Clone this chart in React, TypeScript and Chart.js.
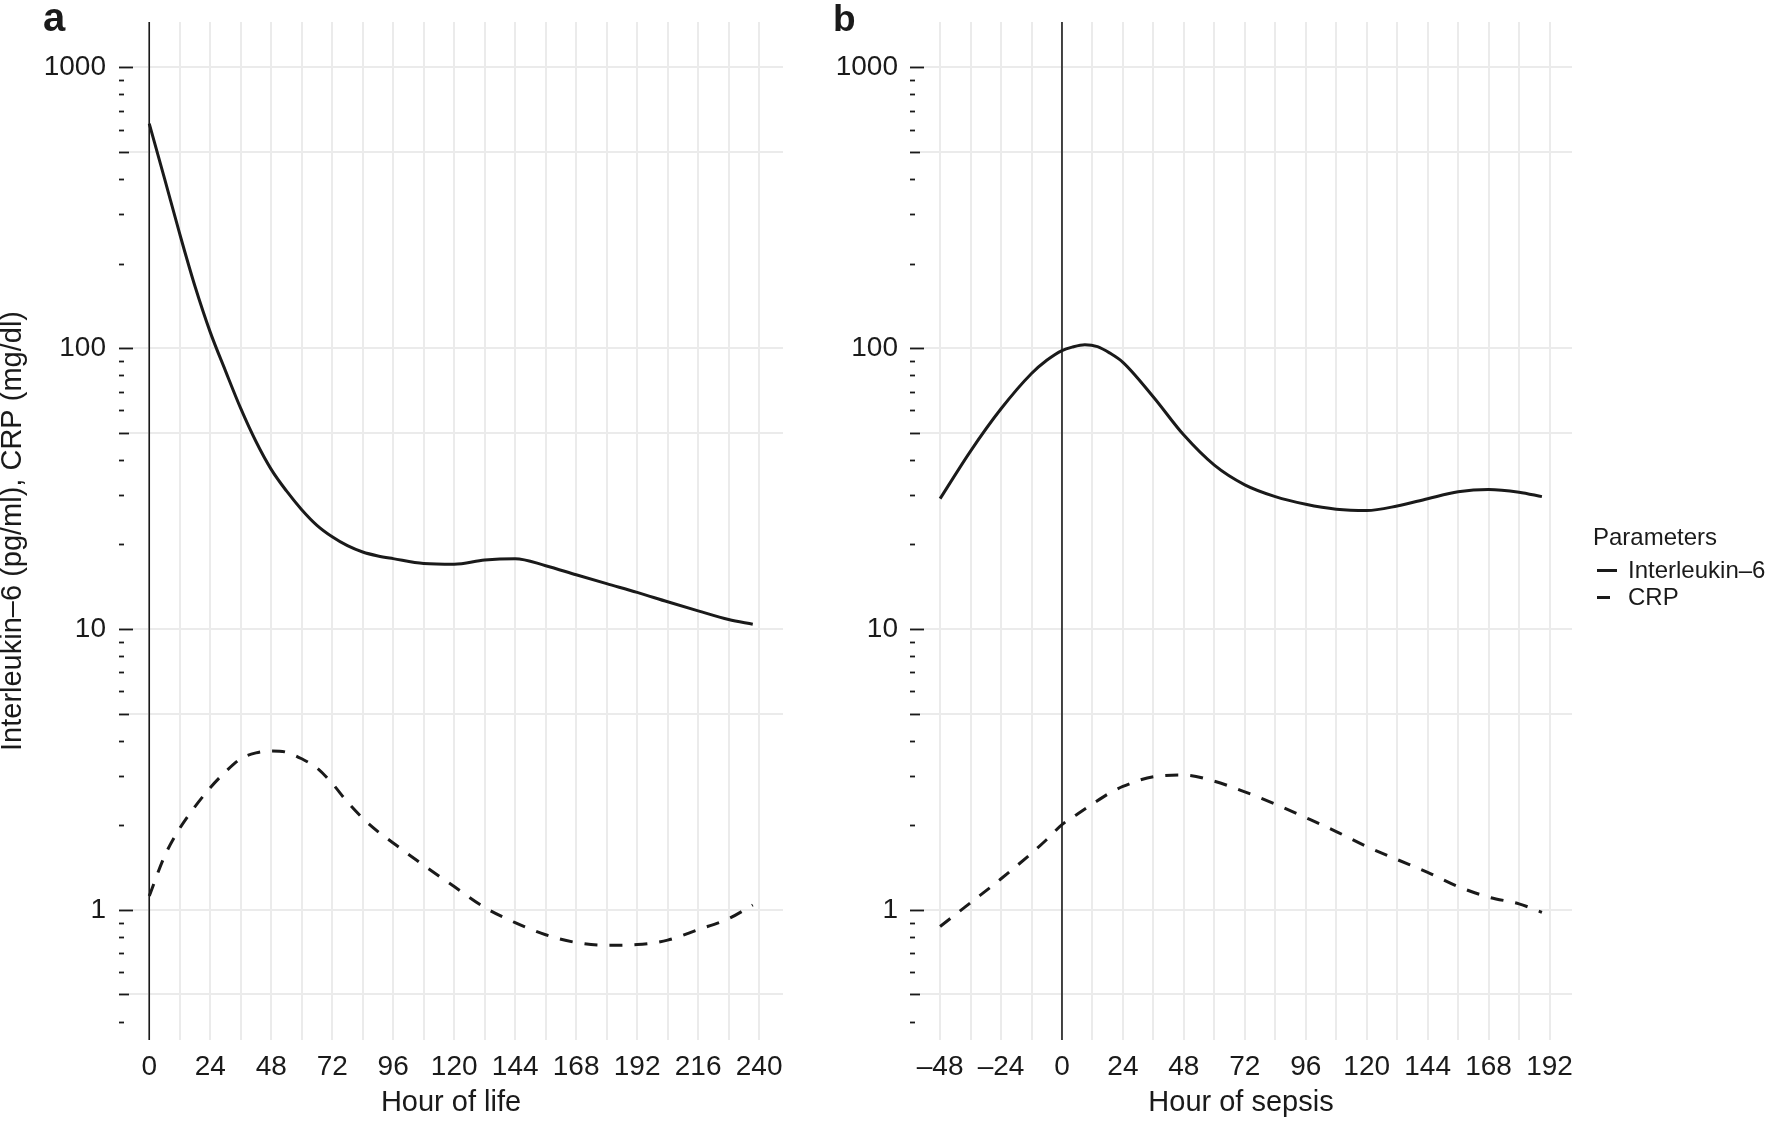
import React, { useEffect, useRef } from "react";
import { Chart, registerables } from "chart.js";

Chart.register(...registerables);

const FONT = '"Liberation Sans", Arial, Helvetica, sans-serif';
const INK = "#1a1a1a";
const GRID = "#ebebeb";

// ---- Panel a: course over the hours of life ----
const lifeHours = [0, 6, 12, 18, 24, 30, 36, 42, 48, 54, 60, 66, 72, 78, 84, 90, 96, 108, 120, 132, 144, 156, 168, 180, 192, 204, 216, 228, 237.5];
const lifeIl6 = [630, 402, 255, 166, 114, 83, 61, 46.5, 37, 31, 26.6, 23.4, 21.3, 19.8, 18.8, 18.2, 17.8, 17.1, 17.0, 17.6, 17.8, 16.8, 15.6, 14.5, 13.5, 12.5, 11.6, 10.8, 10.4];
const lifeCrp = [1.12, 1.55, 1.95, 2.33, 2.72, 3.1, 3.45, 3.62, 3.68, 3.64, 3.45, 3.2, 2.82, 2.42, 2.12, 1.9, 1.73, 1.44, 1.21, 1.02, 0.9, 0.815, 0.765, 0.748, 0.752, 0.78, 0.85, 0.93, 1.04];
const lifeGridHours = [0, 12, 24, 36, 48, 60, 72, 84, 96, 108, 120, 132, 144, 156, 168, 180, 192, 204, 216, 228, 240];
const lifeTickLabels = [0, 24, 48, 72, 96, 120, 144, 168, 192, 216, 240];

// ---- Panel b: course relative to sepsis onset ----
const sepsisIl6Hours = [-48, -36, -24, -12, -6, 0, 4, 9, 14, 19, 24, 36, 48, 60, 72, 84, 96, 108, 120, 132, 144, 156, 168, 180, 189];
const sepsisIl6 = [29.1, 43, 60.8, 81.2, 90.5, 98, 100.8, 102.8, 101.2, 95.8, 89, 67, 49, 38.3, 32.6, 29.6, 27.8, 26.7, 26.4, 27.4, 29.1, 30.8, 31.4, 30.7, 29.6];
const sepsisCrpHours = [-48, -36, -24, -12, -6, 0, 6, 12, 18, 24, 36, 48, 60, 72, 84, 96, 108, 120, 132, 144, 156, 168, 180, 189];
const sepsisCrp = [0.872, 1.06, 1.29, 1.59, 1.78, 2.01, 2.19, 2.38, 2.58, 2.75, 2.98, 3.02, 2.87, 2.63, 2.38, 2.13, 1.9, 1.68, 1.51, 1.36, 1.21, 1.11, 1.05, 0.98];
const sepsisGridHours = [-48, -36, -24, -12, 0, 12, 24, 36, 48, 60, 72, 84, 96, 108, 120, 132, 144, 156, 168, 180, 192];
const sepsisTickLabels = [-48, -24, 0, 24, 48, 72, 96, 120, 144, 168, 192];

// ---- shared log axis ----
const Y_MIN = 0.344;
const Y_MAX = 1449;
const yGridValues = [0.5, 1, 5, 10, 50, 100, 500, 1000];
const yLabelValues = [1, 10, 100, 1000];
const logTickMantissas = [1, 2, 3, 4, 5, 6, 7, 8, 9];
const logTickDecades = [0.1, 1, 10, 100, 1000];
const ONSET_HOUR = 0;

const seriesNames = ["Interleukin–6", "CRP"];
const legendTitle = "Parameters";
const yTitle = "Interleukin–6 (pg/ml), CRP (mg/dl)";

const fmtHour = (v: number) => (v < 0 ? "–" + Math.abs(v) : String(v));

// Log tick marks drawn just inside the left edge of the panel
const logTickPlugin = {
  id: "logTicks",
  beforeDatasetsDraw(chart: any) {
    const y = chart.scales.y;
    const left = chart.chartArea.left;
    const ctx = chart.ctx;
    ctx.save();
    ctx.strokeStyle = INK;
    ctx.lineWidth = 1.8;
    for (const d of logTickDecades) {
      for (const m of logTickMantissas) {
        const v = m * d;
        if (v < y.min || v > y.max) continue;
        const len = m === 1 ? 14 : m === 5 ? 10 : 5;
        const py = Math.round(y.getPixelForValue(v)) + 0.5;
        ctx.beginPath();
        ctx.moveTo(left, py);
        ctx.lineTo(left + len, py);
        ctx.stroke();
      }
    }
    ctx.restore();
  },
};

// Vertical reference line at the onset hour
const zeroLinePlugin = {
  id: "zeroLine",
  beforeDatasetsDraw(chart: any, _args: any, opts: any) {
    const { top, bottom } = chart.chartArea;
    const x = chart.scales.x.getPixelForValue(opts.hour);
    const ctx = chart.ctx;
    ctx.save();
    ctx.strokeStyle = INK;
    ctx.lineWidth = 1.6;
    ctx.beginPath();
    ctx.moveTo(x, top);
    ctx.lineTo(x, bottom);
    ctx.stroke();
    ctx.restore();
  },
};

// Bold panel letter in the top-left corner
const panelTagPlugin = {
  id: "panelTag",
  afterDraw(chart: any, _args: any, opts: any) {
    const ctx = chart.ctx;
    ctx.save();
    ctx.fillStyle = INK;
    ctx.font = `bold ${opts.size}px ${FONT}`;
    ctx.textBaseline = "alphabetic";
    ctx.textAlign = "left";
    ctx.fillText(opts.text, opts.x, opts.baseline);
    ctx.restore();
  },
};

// Legend at the right, built from the dataset styles
const sideLegendPlugin = {
  id: "sideLegend",
  afterDraw(chart: any, _args: any, opts: any) {
    if (!opts.show) return;
    const ctx = chart.ctx;
    ctx.save();
    ctx.fillStyle = INK;
    ctx.font = `24px ${FONT}`;
    ctx.textBaseline = "alphabetic";
    ctx.textAlign = "left";
    ctx.fillText(opts.title, opts.titleX, opts.titleBaseline);
    chart.data.datasets.forEach((ds: any, i: number) => {
      const yb = opts.firstBaseline + i * opts.rowGap;
      const yk = yb - opts.keyRaise;
      ctx.beginPath();
      ctx.setLineDash(ds.borderDash || []);
      ctx.lineWidth = ds.borderWidth;
      ctx.strokeStyle = ds.borderColor;
      ctx.lineCap = "butt";
      ctx.moveTo(opts.keyX, yk);
      ctx.lineTo(opts.keyX + opts.keyLen, yk);
      ctx.stroke();
      ctx.setLineDash([]);
      ctx.fillText(ds.label, opts.textX, yb);
    });
    ctx.restore();
  },
};

type PanelSpec = {
  il6Hours: number[];
  il6: number[];
  crpHours: number[];
  crp: number[];
  grid: number[];
  labels: number[];
  xMin: number;
  xMax: number;
  xTitle: string;
  yAxisWidth: number;
  yLabelPad: number;
  padRight: number;
  showYTitle: boolean;
  tag: { text: string; x: number; baseline: number; size: number };
  legend: any;
};

const lifePanel: PanelSpec = {
  il6Hours: lifeHours,
  il6: lifeIl6,
  crpHours: lifeHours,
  crp: lifeCrp,
  grid: lifeGridHours,
  labels: lifeTickLabels,
  xMin: -11.9,
  xMax: 249.4,
  xTitle: "Hour of life",
  yAxisWidth: 119,
  yLabelPad: 13,
  padRight: 17,
  showYTitle: true,
  tag: { text: "a", x: 43, baseline: 31, size: 40 },
  legend: { show: false },
};

const sepsisPanel: PanelSpec = {
  il6Hours: sepsisIl6Hours,
  il6: sepsisIl6,
  crpHours: sepsisCrpHours,
  crp: sepsisCrp,
  grid: sepsisGridHours,
  labels: sepsisTickLabels,
  xMin: -59.85,
  xMax: 200.85,
  xTitle: "Hour of sepsis",
  yAxisWidth: 110,
  yLabelPad: 12,
  padRight: 199,
  showYTitle: false,
  tag: { text: "b", x: 33, baseline: 31, size: 37 },
  legend: {
    show: true,
    title: legendTitle,
    titleX: 793,
    titleBaseline: 545,
    firstBaseline: 578,
    rowGap: 27,
    keyRaise: 7.5,
    keyX: 797,
    keyLen: 20,
    textX: 828,
  },
};

function buildConfig(p: PanelSpec): any {
  const line = {
    borderColor: INK,
    borderWidth: 3,
    pointRadius: 0,
    fill: false,
    cubicInterpolationMode: "monotone",
    borderCapStyle: "butt",
    borderJoinStyle: "round",
  };
  return {
    type: "line",
    data: {
      datasets: [
        { ...line, label: seriesNames[0], data: p.il6Hours.map((h, i) => ({ x: h, y: p.il6[i] })) },
        { ...line, label: seriesNames[1], borderDash: [13, 12], data: p.crpHours.map((h, i) => ({ x: h, y: p.crp[i] })) },
      ],
    },
    options: {
      responsive: false,
      animation: false,
      events: [],
      layout: { padding: { top: 22, right: p.padRight, left: 0, bottom: 0 } },
      scales: {
        x: {
          type: "linear",
          bounds: "data",
          min: p.xMin,
          max: p.xMax,
          afterBuildTicks: (s: any) => {
            s.ticks = p.grid.map((v) => ({ value: v }));
          },
          afterFit: (s: any) => {
            s.height = 81;
            s.paddingLeft = 0;
            s.paddingRight = 0;
          },
          border: { display: false },
          grid: { color: GRID, lineWidth: 2, drawTicks: false },
          ticks: {
            autoSkip: false,
            maxRotation: 0,
            padding: 10,
            color: INK,
            font: { family: FONT, size: 28 },
            callback: (v: number) => (p.labels.includes(v) ? fmtHour(v) : ""),
          },
          title: {
            display: true,
            text: p.xTitle,
            color: INK,
            font: { family: FONT, size: 29 },
            padding: { top: 0, bottom: 1 },
          },
        },
        y: {
          type: "logarithmic",
          bounds: "data",
          min: Y_MIN,
          max: Y_MAX,
          afterBuildTicks: (s: any) => {
            s.ticks = yGridValues.map((v) => ({ value: v }));
          },
          afterFit: (s: any) => {
            s.width = p.yAxisWidth;
            s.paddingTop = 0;
            s.paddingBottom = 0;
          },
          border: { display: false },
          grid: { color: GRID, lineWidth: 2, drawTicks: false },
          ticks: {
            autoSkip: false,
            padding: p.yLabelPad,
            color: INK,
            font: { family: FONT, size: 28 },
            callback: (v: number) => (yLabelValues.includes(v) ? String(v) : ""),
          },
          title: {
            display: p.showYTitle,
            text: yTitle,
            color: INK,
            font: { family: FONT, size: 29, lineHeight: 0.876 },
            padding: { top: 0, bottom: 0 },
          },
        },
      },
      plugins: {
        legend: { display: false },
        tooltip: { enabled: false },
        zeroLine: { hour: ONSET_HOUR },
        panelTag: p.tag,
        sideLegend: p.legend,
      },
    },
    plugins: [logTickPlugin, zeroLinePlugin, panelTagPlugin, sideLegendPlugin],
  };
}

function Panel({ spec, left, width }: { spec: PanelSpec; left: number; width: number }) {
  const ref = useRef<HTMLCanvasElement>(null);
  useEffect(() => {
    if (!ref.current) return;
    const chart = new Chart(ref.current, buildConfig(spec));
    return () => chart.destroy();
  }, [spec]);
  return (
    <canvas
      ref={ref}
      width={width}
      height={1121}
      style={{ position: "absolute", left, top: 0, width, height: 1121, display: "block" }}
    />
  );
}

export default function App() {
  return (
    <div
      style={{
        position: "absolute",
        left: 0,
        top: 0,
        width: 1771,
        height: 1121,
        background: "#ffffff",
        overflow: "hidden",
      }}
    >
      <Panel spec={lifePanel} left={0} width={800} />
      <Panel spec={sepsisPanel} left={800} width={971} />
    </div>
  );
}
